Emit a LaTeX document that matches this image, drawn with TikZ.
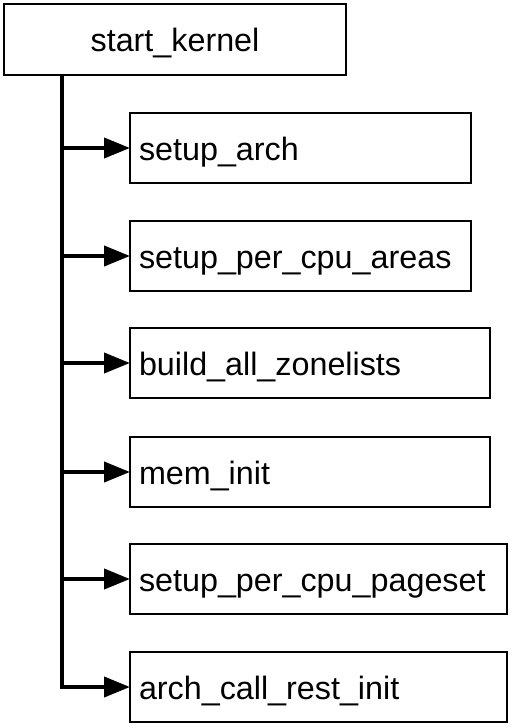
\documentclass[tikz,border=0pt]{standalone}
\usepackage{fontspec}
\setmainfont{Liberation Sans}
\usetikzlibrary{arrows.meta}
\begin{document}
\begin{tikzpicture}[x=1pt,y=-1pt,
  font=\fontsize{32.3}{38}\selectfont,
  topbox/.style={draw, line width=2pt, minimum width=342pt, minimum height=71pt, inner sep=0pt, outer sep=0pt, text height=24pt, text depth=0pt, anchor=north west},
  cbox/.style={draw, line width=2pt, minimum height=70pt, inner xsep=9pt, inner ysep=0pt, outer sep=0pt, text width=#1, text height=24pt, text depth=0pt, align=left, anchor=north west},
  spine/.style={line width=4pt},
  arr/.style={line width=4pt, -{Triangle[length=26pt,width=20pt]}}
]
\useasboundingbox (0,0) rectangle (512,728);
\node[topbox] (sk) at (4,4) {start\_kernel};
\node[cbox=323pt] (a1) at (130,113) {setup\_arch};
\node[cbox=323pt] (a2) at (130,221) {setup\_per\_cpu\_areas};
\node[cbox=342pt] (a3) at (130,328) {build\_all\_zonelists};
\node[cbox=342pt] (a4) at (130,437) {mem\_init};
\node[cbox=359pt] (a5) at (130,544) {setup\_per\_cpu\_pageset};
\node[cbox=359pt] (a6) at (130,652) {arch\_call\_rest\_init};
\coordinate (s0) at (62,75);
\draw[arr] (s0) |- (a6.west);
\foreach \n in {a1,a2,a3,a4,a5}
  \draw[arr] (s0 |- \n.west) -- (\n.west);
\end{tikzpicture}
\end{document}
